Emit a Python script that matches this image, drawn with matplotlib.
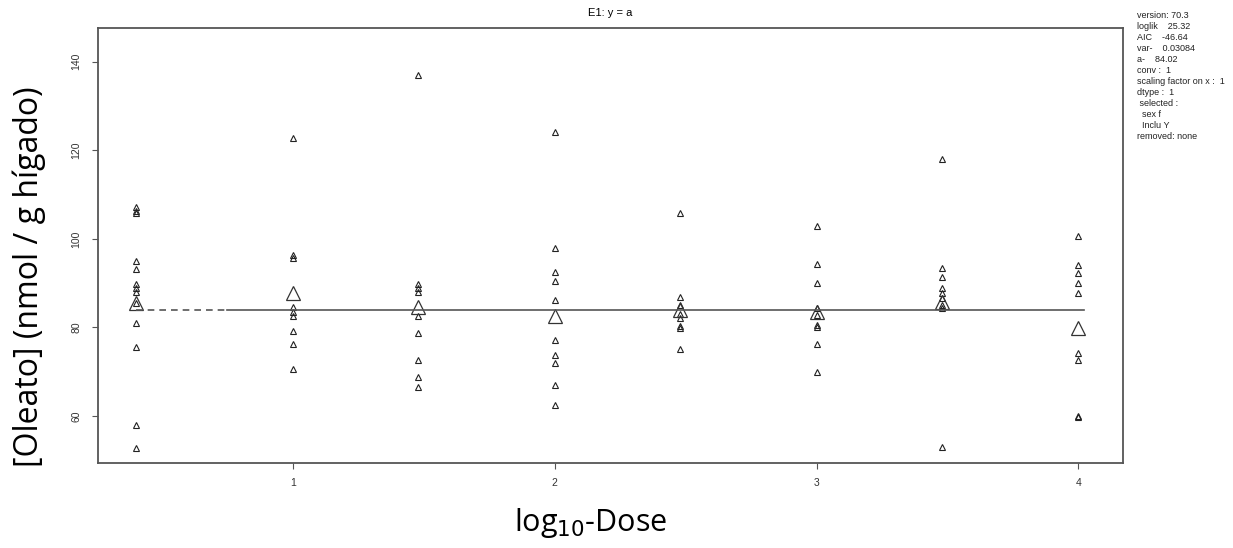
import matplotlib.pyplot as plt

# log10 dose positions (control drawn at 0.40)
dose_log = [0.40, 1.0, 1.477, 2.0, 2.477, 3.0, 3.477, 4.0]

# individual observations per dose group
obs_ctrl = [107.3, 106.3, 105.9, 95.0, 93.2, 89.8, 89.0, 88.1, 85.5, 81.0, 75.7, 58.0, 52.9]
obs_d10 = [122.7, 96.4, 95.6, 84.7, 83.6, 82.5, 79.2, 76.2, 70.6]
obs_d30 = [137.0, 89.8, 89.0, 88.1, 82.6, 78.7, 72.7, 68.9, 66.5]
obs_d100 = [124.2, 97.9, 92.6, 90.4, 86.2, 77.2, 73.8, 71.9, 67.0, 62.4]
obs_d300 = [105.9, 86.8, 85.1, 83.1, 82.1, 80.3, 79.9, 75.2]
obs_d1000 = [102.9, 94.3, 90.0, 84.4, 82.8, 80.6, 80.0, 76.3, 69.9]
obs_d3000 = [118.1, 93.4, 91.5, 88.9, 87.7, 86.6, 85.1, 84.4, 53.1]
obs_d10000 = [100.7, 94.1, 92.3, 90.0, 87.8, 74.3, 72.7, 60.0, 59.8]
groups = [obs_ctrl, obs_d10, obs_d30, obs_d100, obs_d300, obs_d1000, obs_d3000, obs_d10000]

# group means (large triangles)
group_means = [85.5, 87.7, 84.7, 82.5, 84.0, 83.6, 85.8, 79.8]

# fitted model E1: y = a
a_fit = 84.02
dash_end = 0.75
line_end = 4.02

info_lines = ["version: 70.3", "loglik    25.32", "AIC    -46.64", "var-    0.03084",
              "a-    84.02", "conv :  1", "scaling factor on x :  1", "dtype :  1",
              " selected :", "  sex f", "  Inclu Y", "removed: none"]

plt.rcParams['font.family'] = ['Liberation Sans', 'DejaVu Sans']

fig = plt.figure(figsize=(12.33, 5.48), dpi=100)
ax = fig.add_axes([0.0795, 0.1551, 0.8313, 0.7938])

for x, ys in zip(dose_log, groups):
    ax.plot([x] * len(ys), ys, linestyle='none', marker='^', markersize=5,
            markerfacecolor='none', markeredgecolor='#222222', markeredgewidth=0.8)
ax.plot(dose_log, group_means, linestyle='none', marker='^', markersize=10,
        markerfacecolor='none', markeredgecolor='#333333', markeredgewidth=0.9)

ax.plot([dose_log[0], dash_end], [a_fit, a_fit], linestyle=(0, (4, 3)), color='#555555', lw=1.2)
ax.plot([dash_end, line_end], [a_fit, a_fit], linestyle='-', color='#555555', lw=1.2)

ax.set_xlim(0.256, 4.17)
ax.set_ylim(49.4, 147.6)
ax.set_xticks([1, 2, 3, 4])
ax.set_yticks([60, 80, 100, 120, 140])
ax.tick_params(axis='both', labelsize=7.5, length=4, color='#555555', labelcolor='#333333')
ax.tick_params(axis='x', pad=7)
ax.tick_params(axis='y', pad=8)
for lab in ax.get_yticklabels():
    lab.set_rotation(90)
    lab.set_va('center')
for sp in ax.spines.values():
    sp.set_color('#555555')
    sp.set_linewidth(1.3)

ax.set_title('E1: y = a', fontsize=8, pad=9)
fig.text(0.024, 0.495, '[Oleato] (nmol / g hígado)', rotation=90, fontsize=23,
         ha='center', va='center', family=['Open Sans', 'DejaVu Sans'])
fig.text(0.479, 0.045, 'log$_{10}$-Dose', fontsize=22, ha='center', va='center',
         family=['Open Sans', 'DejaVu Sans'])

fig.text(0.922, 0.98, '\n'.join(info_lines), fontsize=6.5, va='top', ha='left',
         linespacing=1.28, color='#222222')

fig.savefig('out.png', dpi=100)
